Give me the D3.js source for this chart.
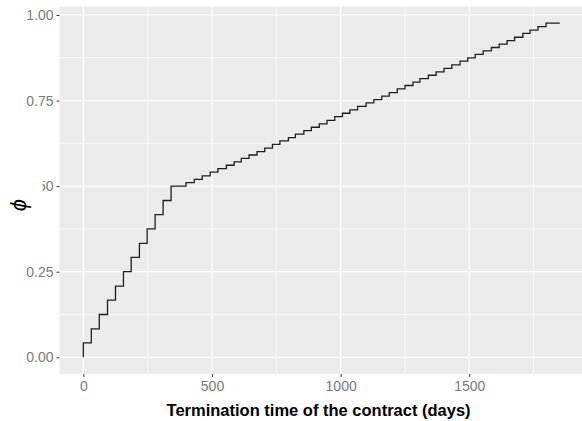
<!DOCTYPE html>
<html>
<head>
<meta charset="utf-8">
<script src="https://cdn.jsdelivr.net/npm/d3@7"></script>
<style>
  html, body { margin: 0; padding: 0; background: #fff; }
  svg { display: block; font-family: "Liberation Sans", Arial, sans-serif; }
</style>
</head>
<body>
<div id="chart"></div>
<script>
// step positions (days) and phi value reached at each step
var stepDays = [
  0, 31, 62, 94, 125, 156, 186, 218, 248, 279, 310, 341,
  399, 431, 462, 493, 523, 556, 586, 614, 644, 675,
  705, 735, 764, 797, 824, 857, 886, 917, 947, 977,
  1007, 1036, 1066, 1099, 1129, 1160, 1189, 1220, 1250, 1281,
  1308, 1341, 1371, 1402, 1432, 1464, 1494, 1523, 1554, 1586,
  1616, 1647, 1676, 1708, 1736, 1767, 1798
];
var stepPhi = [
  0.042, 0.083, 0.125, 0.167, 0.208, 0.250, 0.292, 0.333, 0.375, 0.417, 0.458, 0.500,
  0.510, 0.520, 0.530, 0.541, 0.551, 0.561, 0.571, 0.581, 0.591, 0.601,
  0.611, 0.622, 0.632, 0.642, 0.652, 0.662, 0.672, 0.682, 0.692, 0.703,
  0.713, 0.723, 0.733, 0.743, 0.753, 0.763, 0.773, 0.784, 0.794, 0.804,
  0.814, 0.824, 0.834, 0.844, 0.854, 0.865, 0.875, 0.885, 0.895, 0.905,
  0.915, 0.925, 0.935, 0.946, 0.956, 0.966, 0.976
];
var lastDay = 1852;

var xTicks = [0, 500, 1000, 1500];
var xMinor = [250, 750, 1250, 1750];
var yTicks = [0, 0.25, 0.5, 0.75, 1.0];
var yMinor = [0.125, 0.375, 0.625, 0.875];
var yTickLabels = ['0.00', '0.25', '0.50', '0.75', '1.00'];

var W = 582, H = 421;
var panel = {left: 59.5, right: 583.7, top: 6.5, bottom: 374};

// ggplot-like 5% expansion
var xs = d3.scaleLinear()
  .domain([0 - 0.05 * lastDay, lastDay * 1.05])
  .range([panel.left, panel.right]);
var ymax = d3.max(stepPhi);
var ys = d3.scaleLinear()
  .domain([0 - 0.05 * ymax, ymax * 1.05])
  .range([panel.bottom, panel.top]);

var svg = d3.select('#chart').append('svg')
  .attr('width', W)
  .attr('height', H);

// panel background
svg.append('rect')
  .attr('x', panel.left)
  .attr('y', panel.top)
  .attr('width', panel.right - panel.left)
  .attr('height', panel.bottom - panel.top)
  .attr('fill', '#EBEBEB');

var grid = svg.append('g');
grid.selectAll('line.ymin').data(yMinor).enter().append('line')
  .attr('x1', panel.left).attr('x2', panel.right)
  .attr('y1', function(d) { return ys(d); }).attr('y2', function(d) { return ys(d); })
  .attr('stroke', '#fff').attr('stroke-width', 0.7);
grid.selectAll('line.xmin').data(xMinor).enter().append('line')
  .attr('y1', panel.top).attr('y2', panel.bottom)
  .attr('x1', function(d) { return xs(d); }).attr('x2', function(d) { return xs(d); })
  .attr('stroke', '#fff').attr('stroke-width', 0.7);
grid.selectAll('line.ymaj').data(yTicks).enter().append('line')
  .attr('x1', panel.left).attr('x2', panel.right)
  .attr('y1', function(d) { return ys(d); }).attr('y2', function(d) { return ys(d); })
  .attr('stroke', '#fff').attr('stroke-width', 1.2);
grid.selectAll('line.xmaj').data(xTicks).enter().append('line')
  .attr('y1', panel.top).attr('y2', panel.bottom)
  .attr('x1', function(d) { return xs(d); }).attr('x2', function(d) { return xs(d); })
  .attr('stroke', '#fff').attr('stroke-width', 1.2);

// step line
var pts = [[0, 0]];
stepDays.forEach(function(d, i) { pts.push([d, stepPhi[i]]); });
pts.push([lastDay, stepPhi[stepPhi.length - 1]]);

var line = d3.line()
  .x(function(d) { return xs(d[0]); })
  .y(function(d) { return ys(d[1]); })
  .curve(d3.curveStepAfter);

svg.append('path')
  .datum(pts)
  .attr('d', line)
  .attr('fill', 'none')
  .attr('stroke', '#1e1e1e')
  .attr('stroke-width', 1.3);

// axes
var xAxis = d3.axisBottom(xs).tickValues(xTicks).tickSize(3).tickPadding(4)
  .tickFormat(d3.format('d'));
var gx = svg.append('g')
  .attr('transform', 'translate(0,' + panel.bottom + ')')
  .call(xAxis);
gx.select('.domain').remove();
gx.selectAll('.tick line').attr('stroke', '#333').attr('stroke-width', 1);
gx.selectAll('.tick text').attr('fill', '#7a7a7a').style('font-size', '14px');

var yAxis = d3.axisLeft(ys).tickValues(yTicks).tickSize(3).tickPadding(3)
  .tickFormat(function(d, i) { return yTickLabels[i]; });
var gy = svg.append('g')
  .attr('transform', 'translate(' + panel.left + ',0)')
  .call(yAxis);
gy.select('.domain').remove();
gy.selectAll('.tick line').attr('stroke', '#333').attr('stroke-width', 1);
gy.selectAll('.tick text').attr('fill', '#7a7a7a').style('font-size', '14px');

// y title box (hides part of the 0.50 label, as in the source image)
svg.append('rect')
  .attr('x', 0).attr('y', 176)
  .attr('width', 42.5).attr('height', 40)
  .attr('fill', '#fff');

svg.append('text')
  .attr('transform', 'translate(26,205) rotate(-90)')
  .attr('text-anchor', 'middle')
  .style('font-size', '22px')
  .style('font-style', 'italic')
  .attr('fill', '#000')
  .text('ϕ');

svg.append('text')
  .attr('x', (panel.left + panel.right) / 2 - 3)
  .attr('y', 416)
  .attr('text-anchor', 'middle')
  .style('font-size', '16.5px')
  .style('font-weight', 'bold')
  .attr('fill', '#000')
  .text('Termination time of the contract (days)');
</script>
</body>
</html>
